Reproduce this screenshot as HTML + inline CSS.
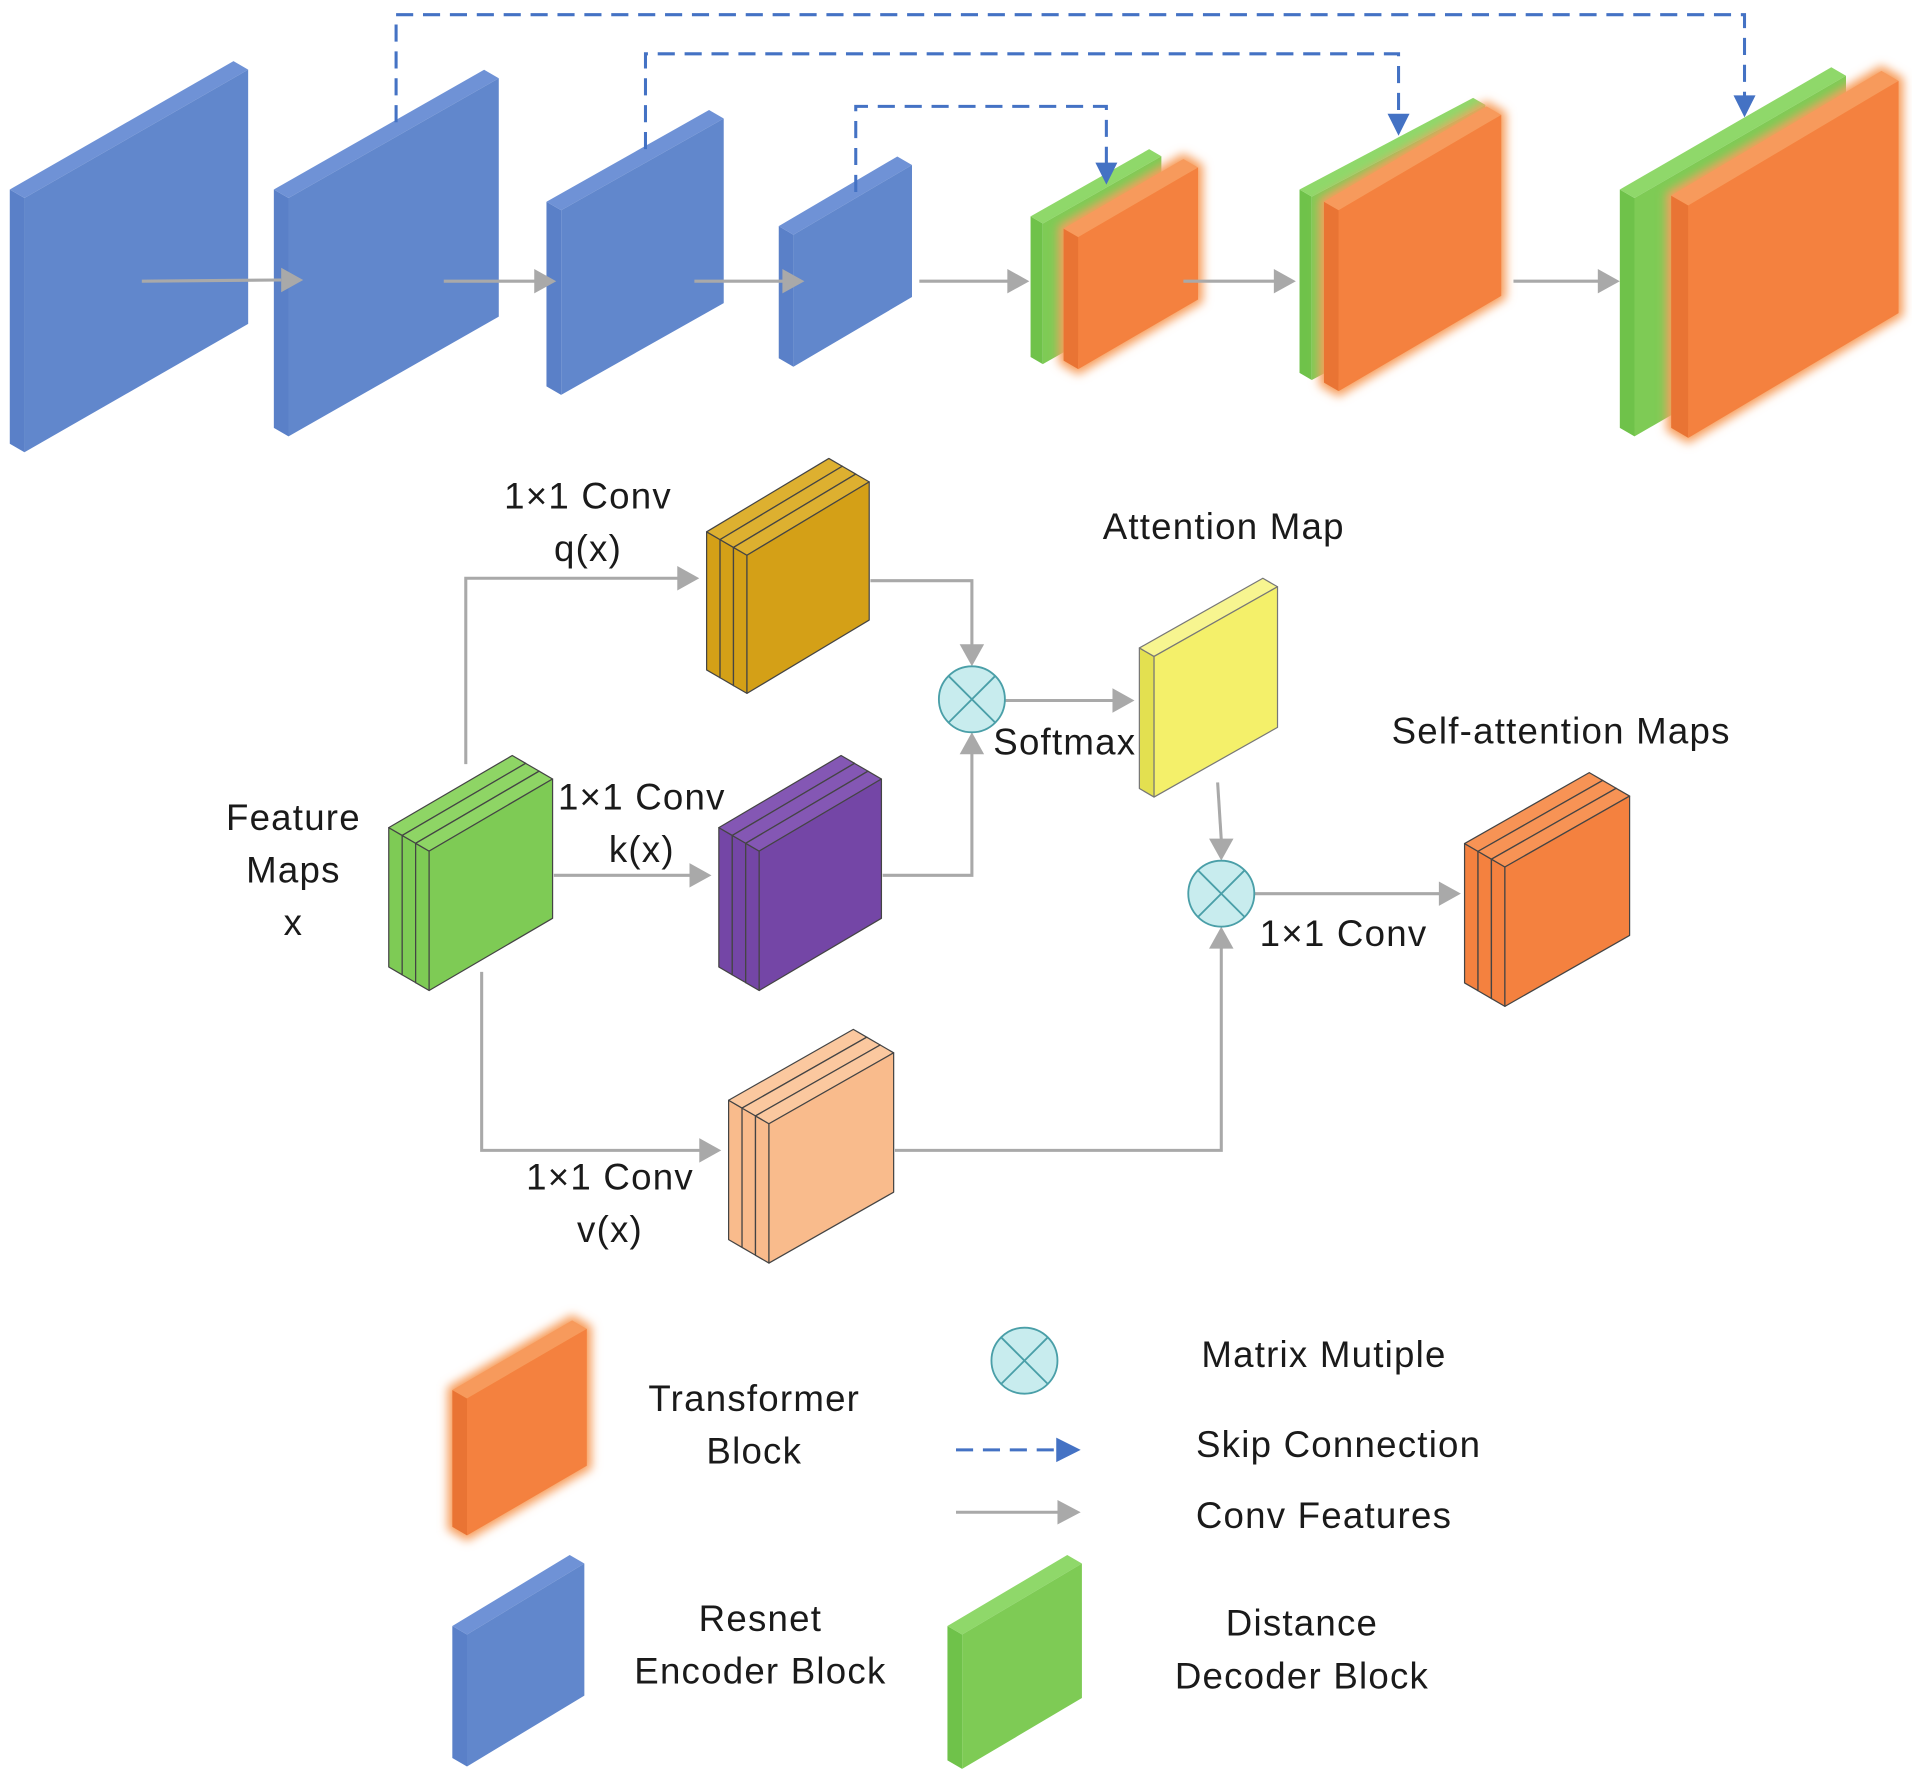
<!DOCTYPE html>
<html><head><meta charset="utf-8"><style>
html,body{margin:0;padding:0;background:#fff}
svg{display:block}
text{font-family:"Liberation Sans","DejaVu Sans",sans-serif;font-size:30px;letter-spacing:1px;fill:#1a1a1a;text-anchor:middle}
</style></head><body>
<svg id="s" width="1912" height="1769" viewBox="0 0 1564 1447" xmlns="http://www.w3.org/2000/svg">
<defs>
<filter id="glow" x="-20%" y="-20%" width="140%" height="140%"><feGaussianBlur stdDeviation="4"/></filter>
</defs>
<g id="blocks"></g>
<g fill="none" stroke="#a9a9a9" stroke-width="2.5">
<path d="M116,230 L230,229"/><path d="M363,230 L438,230"/><path d="M568,230 L641,230"/><path d="M752,230 L825,230"/><path d="M968,230 L1043,230"/><path d="M1238,230 L1308,230"/>
<path d="M381,625 L381,473 L555,473"/><path d="M453,716 L565,716"/><path d="M394,795 L394,941 L573,941"/>
<path d="M712,475 L795,475 L795,528"/><path d="M722,716 L795,716 L795,616"/><path d="M822,573 L911,573"/>
<path d="M996,640 L999,687"/><path d="M732,941 L999,941 L999,775"/><path d="M1026,731 L1178,731"/>
<path d="M782,1237 L866,1237"/>
</g>
<g fill="#a9a9a9">
<path d="M230,219 L248,229 L230,239z"/><path d="M437,220 L455,230 L437,240z"/><path d="M640,220 L658,230 L640,240z"/><path d="M824,220 L842,230 L824,240z"/><path d="M1042,220 L1060,230 L1042,240z"/><path d="M1307,220 L1325,230 L1307,240z"/>
<path d="M554,463 L572,473 L554,483z"/><path d="M564,706 L582,716 L564,726z"/><path d="M572,931 L590,941 L572,951z"/>
<path d="M785,527 L795,545 L805,527z"/><path d="M785,617 L795,599 L805,617z"/><path d="M910,563 L928,573 L910,583z"/>
<path d="M989,686 L999,704 L1009,686z"/><path d="M989,776 L999,758 L1009,776z"/><path d="M1177,721 L1195,731 L1177,741z"/>
<path d="M865,1227 L884,1237 L865,1247z"/>
</g>
<g fill="none" stroke="#4472C4" stroke-width="2.5" stroke-dasharray="14,8">
<path d="M324,100 L324,12 L1427,12 L1427,80"/><path d="M528,122 L528,44 L1144,44 L1144,95"/><path d="M700,157 L700,87 L905,87 L905,135"/>
<path d="M782,1186 L866,1186"/>
</g>
<g fill="#4472C4">
<path d="M1418,78 L1427,96 L1436,78z"/><path d="M1135,93 L1144,111 L1153,93z"/><path d="M896,133 L905,151 L914,133z"/><path d="M864,1176 L884,1186 L864,1196z"/>
</g>
<g fill="#c8ecee" stroke="#4a9fa8" stroke-width="1.5">
<circle cx="795" cy="572" r="27"/><circle cx="999" cy="731" r="27"/><circle cx="838" cy="1113" r="27"/>
</g>
<g stroke="#4a9fa8" stroke-width="1.5">
<path d="M776,553 L814,591 M814,553 L776,591"/><path d="M980,712 L1018,750 M1018,712 L980,750"/><path d="M819,1094 L857,1132 M857,1094 L819,1132"/>
</g>
<text x="481" y="416">1×1 Conv</text><text x="481" y="459">q(x)</text>
<text x="1001" y="441">Attention Map</text>
<text x="871" y="617">Softmax</text>
<text x="1277" y="608">Self-attention Maps</text>
<text x="240" y="679">Feature</text><text x="240" y="722">Maps</text><text x="240" y="765">x</text>
<text x="525" y="662">1×1 Conv</text><text x="525" y="705">k(x)</text>
<text x="1099" y="774">1×1 Conv</text>
<text x="499" y="973">1×1 Conv</text><text x="499" y="1016">v(x)</text>
<text x="1083" y="1118">Matrix Mutiple</text>
<text x="617" y="1154">Transformer</text><text x="617" y="1197">Block</text>
<text x="1095" y="1192">Skip Connection</text>
<text x="1083" y="1250">Conv Features</text>
<text x="622" y="1334">Resnet</text><text x="622" y="1377">Encoder Block</text>
<text x="1065" y="1338">Distance</text><text x="1065" y="1381">Decoder Block</text>
</svg>
<script>
var g=document.getElementById('blocks'),NS='http://www.w3.org/2000/svg';
function poly(pts,fill,stroke,extra){var p=document.createElementNS(NS,'polygon');p.setAttribute('points',pts.map(function(a){return a.join(',')}).join(' '));p.setAttribute('fill',fill);if(stroke){p.setAttribute('stroke',stroke);p.setAttribute('stroke-width','1');p.setAttribute('stroke-linejoin','round');}if(extra)for(var k in extra)p.setAttribute(k,extra[k]);g.appendChild(p);}
function slab(L,R,yL,yR,H,d,c,glow,stroke){var o=d*0.58;
 if(glow){poly([[L,yL],[R-d,yR],[R,yR+o],[R,yR+o+H],[L+d,yL+o+H],[L,yL+H]],'#f58a3a',null,{filter:'url(#glow)','stroke':'#f7a060','stroke-width':'8'});}
 poly([[L,yL],[L+d,yL+o],[L+d,yL+o+H],[L,yL+H]],c.side,stroke);
 poly([[L,yL],[R-d,yR],[R,yR+o],[L+d,yL+o]],c.top,stroke);
 poly([[L+d,yL+o],[R,yR+o],[R,yR+o+H],[L+d,yL+o+H]],c.front,stroke);}
var B={side:'#5a80c8',top:'#6f92d6',front:'#6187cc'},G={side:'#6fc24a',top:'#8fd86a',front:'#7ecb55'},O={side:'#e97434',top:'#f79a5c',front:'#f4813f'};
slab(8,203,155,50,208,12,B);slab(224,408,155,57,195,12,B);slab(447,592,165,90,151,12,B);slab(637,746,185,128,108,12,B);
slab(843,950,177,122,115,10,G);slab(870,980,187,130,108,12,O,1);
slab(1063,1215,155,80,150,10,G);slab(1083,1228,165,87,148,12,O,1);
slab(1325,1510,155,55,195,12,G);slab(1367,1553,160,58,190,14,O,1);
function cube2(L,R,yL,yR,H,col){var d=11,o=6.4;for(var i=0;i<3;i++){var x=L+i*d,y=yL+i*o,rx=R-34+(i+1)*11;slab(x,rx,y,yR+i*o,H,d,col,0,'#444');}}
var Y={side:'#d4a017',top:'#ddb030',front:'#d4a017'},P={side:'#7446a6',top:'#8457b4',front:'#7446a6'},Gc={side:'#7ecb55',top:'#8ed565',front:'#7ecb55'},Pe={side:'#f9bb8c',top:'#fbc89f',front:'#f9bb8c'},Oc={side:'#f4813f',top:'#f79355',front:'#f4813f'};
cube2(578,712,435,375,113,Y);cube2(588,722,677,618,114,P);cube2(318,453,677,618,114,Gc);cube2(596,732,900,842,114,Pe);cube2(1198,1334,690,632,114,Oc);
slab(932,1045,530,473,115,12,{side:'#e3e050',top:'#f7f590',front:'#f4f06a'},0,'#777');
slab(370,480,1137,1080,112,12,O,1);slab(370,478,1330,1272,108,12,B);slab(775,885,1330,1272,110,12,G);
</script>
</body></html>
